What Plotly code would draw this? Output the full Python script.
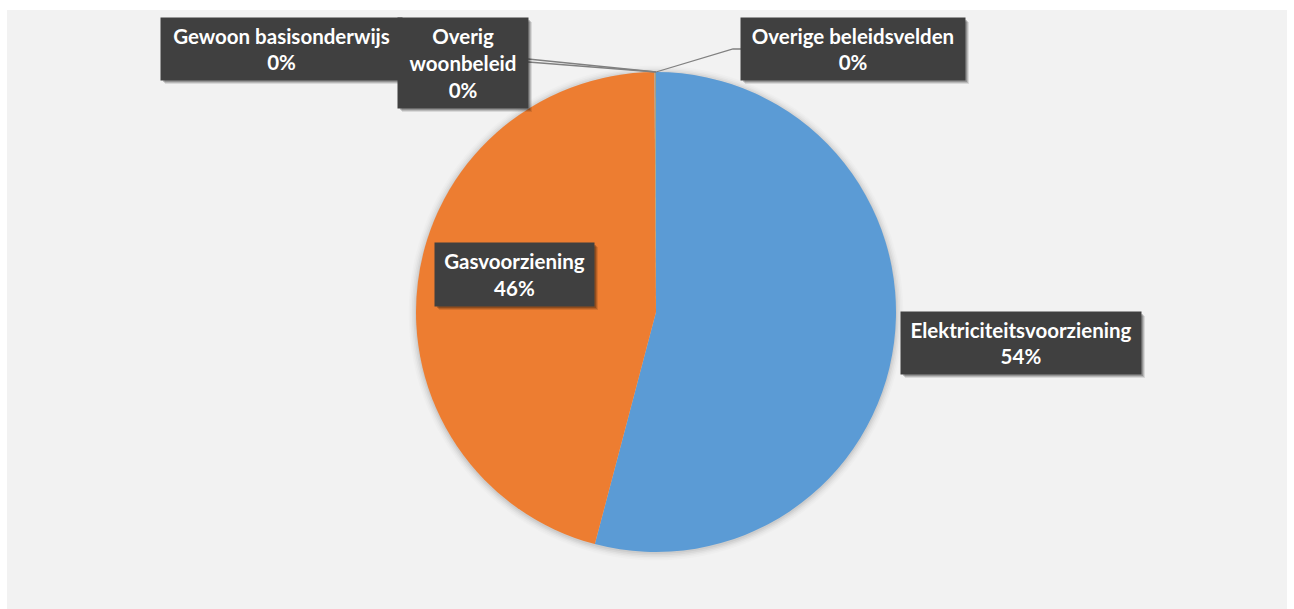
import plotly.graph_objects as go

# Aandeel per beleidsveld (%)
categories = [
    "Elektriciteitsvoorziening",
    "Gasvoorziening",
    "Gewoon basisonderwijs",
    "Overig woonbeleid",
    "Overige beleidsvelden",
]
values = [54.1, 45.8, 0.03, 0.04, 0.03]
colors = ["#5B9BD5", "#ED7D31", "#A5A5A5", "#FFC000", "#4472C4"]

W, H = 1294, 609
PIE_CX, PIE_CY, PIE_R = 656, 312, 240   # pixels, y from top

def px(x):
    return x / W

def py(y):
    return 1 - y / H

total = sum(values)
pct = [round(v / total * 100) for v in values]

fig = go.Figure()

fig.add_trace(go.Pie(
    labels=categories,
    values=values,
    sort=False,
    direction="clockwise",
    rotation=0,
    marker=dict(colors=colors, line=dict(width=0)),
    textinfo="none",
    hoverinfo="label+percent",
    showlegend=False,
    domain=dict(
        x=[px(PIE_CX - PIE_R), px(PIE_CX + PIE_R)],
        y=[py(PIE_CY + PIE_R), py(PIE_CY - PIE_R)],
    ),
))

shapes = []
# chart area background
shapes.append(dict(type="rect", xref="paper", yref="paper",
                   x0=px(7), x1=px(1287), y0=py(609), y1=py(10),
                   fillcolor="#F2F2F2", line=dict(width=0), layer="below"))
# soft shadow around the pie
for i, a in enumerate([0.05, 0.04, 0.03, 0.02, 0.015]):
    r = PIE_R + 1 + i * 1.6
    shapes.append(dict(type="circle", xref="paper", yref="paper",
                       x0=px(PIE_CX - r), x1=px(PIE_CX + r),
                       y0=py(PIE_CY + r + 1), y1=py(PIE_CY - r + 1),
                       fillcolor=f"rgba(0,0,0,{a})", line=dict(width=0),
                       layer="below"))

# leader lines from the top of the pie to the small-slice labels
top_x, top_y = PIE_CX, PIE_CY - PIE_R
line_style = dict(color="#808080", width=1.3)
for ey in (59, 62):
    shapes.append(dict(type="line", xref="paper", yref="paper",
                       x0=px(top_x), y0=py(top_y), x1=px(528), y1=py(ey),
                       line=line_style))
shapes.append(dict(type="path", xref="paper", yref="paper",
                   path=f"M {px(top_x)},{py(top_y)} L {px(733)},{py(49)} L {px(741)},{py(49)}",
                   line=line_style))

# label boxes: (category index, centre x, centre y, width, height, wrap)
boxes = [
    (2, 281.5, 49, 241, 62, False),
    (3, 463, 63, 130, 90, True),
    (4, 853, 49, 224, 62, False),
    (1, 514.5, 274.5, 159, 63, False),
    (0, 1021, 343, 240, 62, False),
]

font = dict(family="Lato, 'Open Sans', sans-serif", size=20.5, color="white")
annotations = []
for idx, cx, cy, bw, bh, wrap in boxes:
    name = categories[idx]
    if wrap:
        name = name.replace(" ", "<br>")
    text = f"<b>{name}<br>{pct[idx]}%</b>"
    # soft drop shadow behind each label box
    for off, a in ((4, 0.10), (3, 0.15), (2, 0.2)):
        shapes.append(dict(type="rect", xref="paper", yref="paper",
                           x0=px(cx - bw / 2 + off), x1=px(cx + bw / 2 + off),
                           y0=py(cy + bh / 2 + off), y1=py(cy - bh / 2 + off),
                           fillcolor=f"rgba(0,0,0,{a})", line=dict(width=0),
                           layer="above"))
    annotations.append(dict(xref="paper", yref="paper", xanchor="center",
                            yanchor="middle", showarrow=False, width=bw,
                            height=bh, borderpad=0, align="center",
                            valign="middle", text=text, x=px(cx), y=py(cy),
                            bgcolor="#404040", font=font))

fig.update_layout(shapes=shapes, annotations=annotations)

fig.update_layout(
    width=W, height=H, autosize=False,
    margin=dict(l=0, r=0, t=0, b=0),
    paper_bgcolor="white", plot_bgcolor="white",
)

fig.write_html("out.html")
